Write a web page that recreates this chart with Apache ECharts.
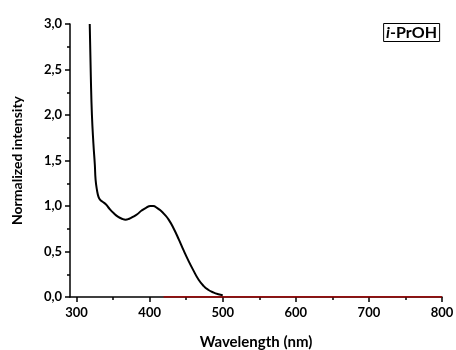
<!DOCTYPE html>
<html>
<head>
<meta charset="utf-8">
<script src="https://cdn.jsdelivr.net/npm/echarts@6/dist/echarts.min.js"></script>
<style>
  html, body { margin: 0; padding: 0; background: #fff; }
  #chart { width: 456px; height: 350px; }
</style>
</head>
<body>
<div id="chart"></div>
<script>
// Emission spectrum in isopropanol
const wavelength = [318, 319.5, 321, 323, 325, 326, 328, 330, 332, 335, 340, 345, 351, 357, 362, 367, 372, 377, 383, 389, 395, 401, 405, 410, 415, 420, 426, 433, 440, 446, 453, 460, 467, 474, 480, 487, 494, 500];
const intensity  = [3.0, 2.42, 2.0, 1.69, 1.45, 1.29, 1.17, 1.10, 1.07, 1.05, 1.02, 0.97, 0.92, 0.88, 0.86, 0.85, 0.86, 0.88, 0.91, 0.95, 0.98, 1.0, 1.0, 0.98, 0.95, 0.91, 0.85, 0.75, 0.63, 0.52, 0.40, 0.29, 0.19, 0.12, 0.08, 0.05, 0.03, 0.02];
const baselineX = [419, 800];
const baselineY = [0, 0];
const xMajorTicks = [300, 400, 500, 600, 700, 800];
const xMinorTicks = [350, 450, 550, 650, 750];
const sampleName = 'i-PrOH';

const FONT = 'Lato';
const chart = echarts.init(document.getElementById('chart'));

const axisBase = {
  type: 'value',
  min: 291,
  max: 800,
  axisLine: { lineStyle: { color: '#000', width: 1.5 } },
  splitLine: { show: false }
};

chart.setOption({
  animation: false,
  backgroundColor: '#fff',
  title: {
    text: '{it|' + sampleName.split('-')[0] + '}-' + sampleName.split('-').slice(1).join('-'),
    right: 16,
    top: 23,
    padding: [2, 3, 1, 3],
    borderColor: '#000',
    borderWidth: 1,
    backgroundColor: '#fff',
    textStyle: {
      fontFamily: FONT, fontWeight: 'bold', fontSize: 16, color: '#000',
      rich: { it: { fontFamily: FONT, fontWeight: 'bold', fontStyle: 'italic', fontSize: 16, color: '#000' } }
    }
  },
  grid: { left: 70, right: 14, top: 24, bottom: 53, containLabel: false, outerBoundsMode: 'none' },
  xAxis: [
    Object.assign({}, axisBase, {
      name: 'Wavelength (nm)',
      nameLocation: 'middle',
      nameGap: 38,
      nameTextStyle: { fontFamily: FONT, fontWeight: 'bold', fontSize: 15, color: '#000' },
      axisTick: { show: true, length: 5, customValues: xMajorTicks, lineStyle: { color: '#000', width: 1.5 } },
      axisLabel: { customValues: xMajorTicks, fontFamily: FONT, fontWeight: 'bold', fontSize: 13, color: '#000', margin: 9 }
    }),
    Object.assign({}, axisBase, {
      position: 'bottom',
      axisLine: { show: false },
      axisTick: { show: true, length: 3, customValues: xMinorTicks, lineStyle: { color: '#000', width: 1.5 } },
      axisLabel: { show: false }
    })
  ],
  yAxis: {
    type: 'value',
    min: 0,
    max: 3,
    interval: 0.5,
    name: 'Normalized intensity',
    nameLocation: 'middle',
    nameGap: 46,
    nameTextStyle: { fontFamily: FONT, fontWeight: 'bold', fontSize: 14, color: '#000' },
    axisLine: { show: true, lineStyle: { color: '#000', width: 1.5 } },
    axisTick: { show: true, length: 5, lineStyle: { color: '#000', width: 1.5 } },
    minorTick: { show: true, splitNumber: 2, length: 3, lineStyle: { color: '#000', width: 1.5 } },
    splitLine: { show: false },
    axisLabel: {
      fontFamily: FONT, fontWeight: 'bold', fontSize: 13, color: '#000', margin: 8,
      formatter: v => v.toFixed(1).replace('.', ',')
    }
  },
  series: [
    {
      type: 'line',
      data: baselineX.map((x, i) => [x, baselineY[i]]),
      showSymbol: false,
      lineStyle: { color: '#b00000', width: 1.5 },
      z: 5
    },
    {
      type: 'line',
      data: wavelength.map((x, i) => [x, intensity[i]]),
      smooth: 0.5,
      showSymbol: false,
      lineStyle: { color: '#000', width: 2 },
      z: 6
    }
  ]
});
</script>
</body>
</html>
